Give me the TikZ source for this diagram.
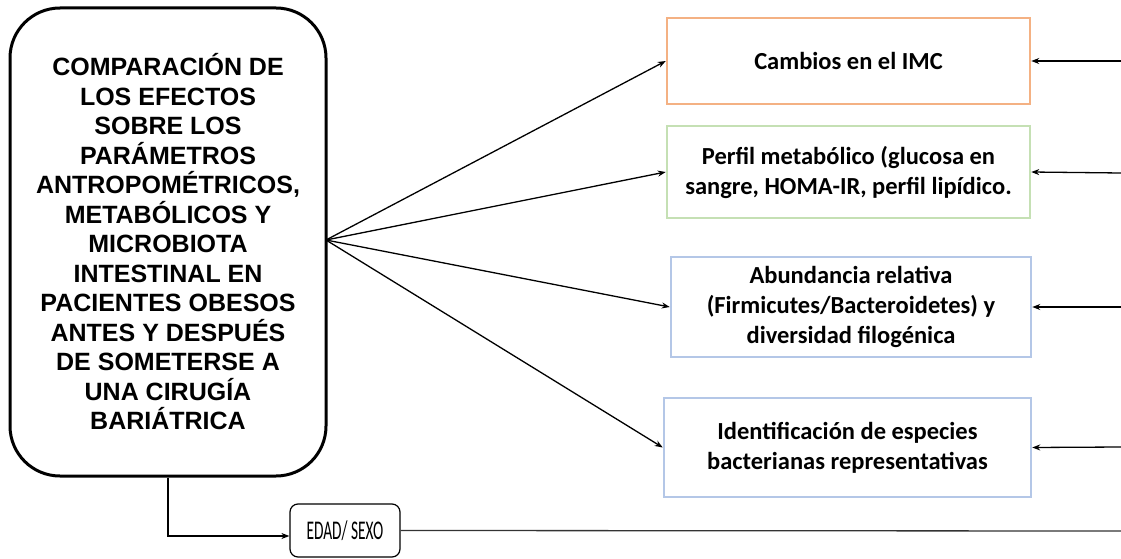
\documentclass[tikz,border=0pt]{standalone}
\usepackage{fontspec}
\usepackage{graphicx}
\setmainfont{Liberation Sans}
\newfontfamily\calib{Carlito}
\usetikzlibrary{arrows.meta}
\definecolor{boxorange}{HTML}{F4B183}
\definecolor{boxgreen}{HTML}{C5E0B4}
\definecolor{boxblue}{HTML}{B4C7E7}
\tikzset{
  mainbox/.style={draw=black, line width=3pt, rounded corners=50pt, minimum width=316pt, minimum height=468pt, align=center, inner sep=0pt,
    font=\fontsize{25}{29.5}\selectfont\bfseries},
  itembox/.style={draw=#1, line width=2.5pt, align=center, inner sep=0pt,
    font=\calib\fontsize{24.5}{30}\selectfont\bfseries},
  agebox/.style={draw=black, line width=1.2pt, rounded corners=8pt, minimum width=110pt, minimum height=53pt, inner sep=0pt},
  conn/.style={line width=1.3pt, -{Stealth[length=8pt,width=6pt]}},
  plain/.style={line width=1.3pt, draw=black!80},
}
\begin{document}
\begin{tikzpicture}[x=1pt, y=-1pt]
\useasboundingbox (0,0) rectangle (1121,559);
\node[mainbox] (main) at (168,242) {COMPARACIÓN DE\\LOS EFECTOS\\SOBRE LOS\\PARÁMETROS\\ANTROPOMÉTRICOS,\\METABÓLICOS Y\\MICROBIOTA\\INTESTINAL EN\\PACIENTES OBESOS\\ANTES Y DESPUÉS\\DE SOMETERSE A\\UNA CIRUGÍA\\BARIÁTRICA};
\node[itembox=boxorange, minimum width=363pt, minimum height=86pt] (imc) at (848.5,61) {Cambios en el IMC};
\node[itembox=boxgreen, minimum width=363pt, minimum height=92pt] (perfil) at (848.5,172) {Perfil metabólico (glucosa en\\sangre, HOMA-IR, perfil lipídico.};
\node[itembox=boxblue, minimum width=360pt, minimum height=100pt] (abund) at (851,307) {Abundancia relativa\\(Firmicutes/Bacteroidetes) y\\diversidad filogénica};
\node[itembox=boxblue, minimum width=367pt, minimum height=99pt] (ident) at (847.5,447.5) {Identificación de especies\\bacterianas representativas};
\node[agebox] (edad) at (345,530.5) {\calib\fontsize{27}{30}\selectfont\scalebox{0.57}[1]{EDAD/ SEXO}};

\coordinate (fan) at (326,240);
\draw[conn] (fan) -- (imc.west);
\draw[conn] (fan) -- (perfil.west);
\draw[conn] (fan) -- (abund.west);
\draw[conn] (fan) -- (ident.west);

\coordinate (r1) at (1121,61);
\coordinate (r2) at (1121,173);
\coordinate (r3) at (1121,307);
\coordinate (r4) at (1121,447);
\draw[conn] (r1) -- (imc.east);
\draw[conn] (r2) -- (perfil.east);
\draw[conn] (r3) -- (abund.east);
\draw[conn] (r4) -- (ident.east);

\coordinate (elbow) at (168,536);
\draw[conn] (main.south) -- (elbow) -- (edad.west |- elbow);
\coordinate (rend) at (1121,531);
\draw[plain] (edad.east) -- (rend);
\end{tikzpicture}
\end{document}
